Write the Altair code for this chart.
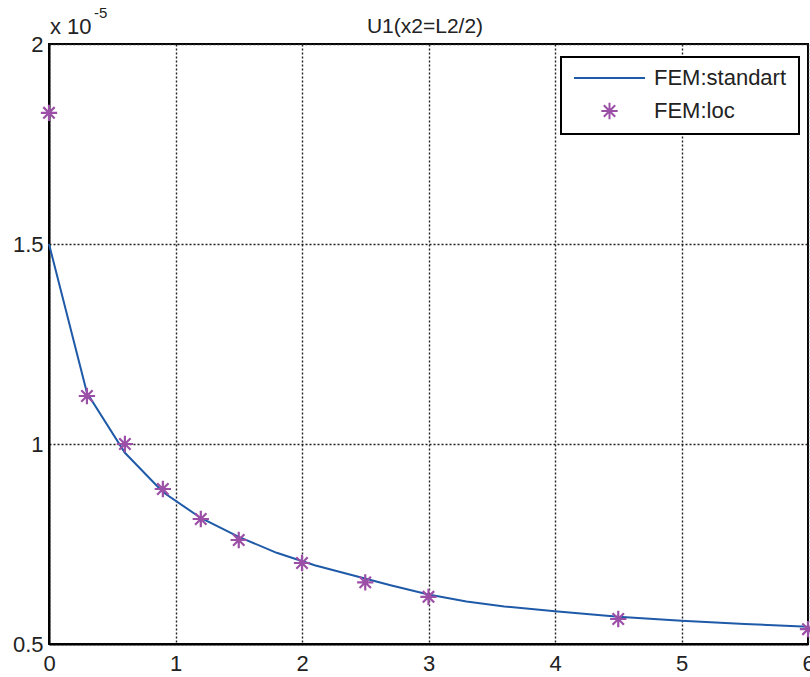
import altair as alt
import pandas as pd

# FEM:standart (line)
line_x = [0, 0.3, 0.6, 0.9, 1.2, 1.5, 1.8, 2.1, 2.4, 2.7, 3.0, 3.3, 3.6, 4.0, 4.5, 5.0, 5.5, 6.0]
line_y = [1.5, 1.128, 0.978, 0.88, 0.815, 0.768, 0.728, 0.697, 0.672, 0.647, 0.624, 0.606, 0.594, 0.582, 0.568, 0.558, 0.55, 0.543]

# FEM:loc (stars)
loc_x = [0, 0.3, 0.6, 0.9, 1.2, 1.5, 2.0, 2.5, 3.0, 4.5, 6.0]
loc_y = [1.828, 1.12, 1.0, 0.8875, 0.8125, 0.76, 0.7025, 0.654, 0.618, 0.5625, 0.537]

series = ["FEM:standart", "FEM:loc"]
colors = ["#1f5aa8", "#9c4fa6"]
x_ticks = [0, 1, 2, 3, 4, 5, 6]
y_ticks = [0.5, 1, 1.5, 2]
title_text = "U1(x2=L2/2)"

line_df = pd.DataFrame({"x": line_x, "y": line_y, "series": series[0]})
loc_df = pd.DataFrame({"x": loc_x, "y": loc_y, "series": series[1]})

FONT = "Liberation Sans"
LINE_PATH = "M-1,0L1,0"
STAR_PATH = ("M-0.23,0L0.23,0M0,-0.23L0,0.23"
             "M-0.16,-0.16L0.16,0.16M-0.16,0.16L0.16,-0.16")

xscale = alt.Scale(domain=[0, 6], nice=False, zero=False)
yscale = alt.Scale(domain=[0.5, 2], nice=False, zero=False)

xaxis = alt.Axis(values=x_ticks, title=None, grid=True, gridDash=[2, 2],
                 gridColor="#222222", gridWidth=1.4, domainColor="black",
                 domainWidth=2, ticks=False, labelFont=FONT, labelFontSize=22,
                 labelColor="#222222", labelPadding=9, labelFlush=False,
                 labelOverlap=False, format="d")
yaxis = alt.Axis(values=y_ticks, title=None, grid=True, gridDash=[2, 2],
                 gridColor="#222222", gridWidth=1.4, domainColor="black",
                 domainWidth=2, ticks=False, labelFont=FONT, labelFontSize=22,
                 labelColor="#222222", labelPadding=6, labelFlush=False,
                 labelOverlap=False, format="~g")

line = alt.Chart(line_df).mark_line(strokeWidth=2, color=colors[0]).encode(
    x=alt.X("x:Q", scale=xscale, axis=xaxis),
    y=alt.Y("y:Q", scale=yscale, axis=yaxis),
    detail="series:N",
)

pts = alt.Chart(loc_df).mark_point(filled=False, strokeWidth=2.2, size=5041,
                                   opacity=1).encode(
    x=alt.X("x:Q", scale=xscale),
    y=alt.Y("y:Q", scale=yscale),
    color=alt.Color("series:N", scale=alt.Scale(domain=series, range=colors),
                    legend=alt.Legend(title=None)),
    shape=alt.Shape("series:N", scale=alt.Scale(domain=series, range=[LINE_PATH, STAR_PATH]),
                    legend=alt.Legend(title=None)),
)

txt_df = pd.DataFrame({"t": ["x 10"], "s": ["-5"], "title": [title_text]})
exp_main = alt.Chart(txt_df).mark_text(align="left", baseline="alphabetic",
                                       font=FONT, fontSize=22, color="#222222").encode(
    x=alt.value(1), y=alt.value(-10), text="t:N")
exp_sup = alt.Chart(txt_df).mark_text(align="left", baseline="alphabetic",
                                      font=FONT, fontSize=15, color="#222222").encode(
    x=alt.value(45), y=alt.value(-26), text="s:N")
title_mark = alt.Chart(txt_df).mark_text(align="center", baseline="alphabetic",
                                         font=FONT, fontSize=21, color="#222222").encode(
    x=alt.value(376), y=alt.value(-11), text="title:N")

chart = alt.layer(line, pts, exp_main, exp_sup, title_mark).properties(
    width=759, height=600,
    autosize=alt.AutoSizeParams(type="none"),
    padding={"left": 49, "top": 44, "right": 2, "bottom": 33},
    background="white",
).configure_view(stroke="black", strokeWidth=2).configure_legend(
    orient="none", legendX=512, legendY=13, strokeColor="black", strokeWidth=2,
    fillColor="white", padding=12, labelFont=FONT, labelFontSize=22,
    labelColor="#222222", labelOffset=8, symbolSize=5041, symbolStrokeWidth=2,
    clipHeight=18, rowPadding=11,
)

chart.save("out.html", embed_options={"renderer": "svg", "actions": False})
